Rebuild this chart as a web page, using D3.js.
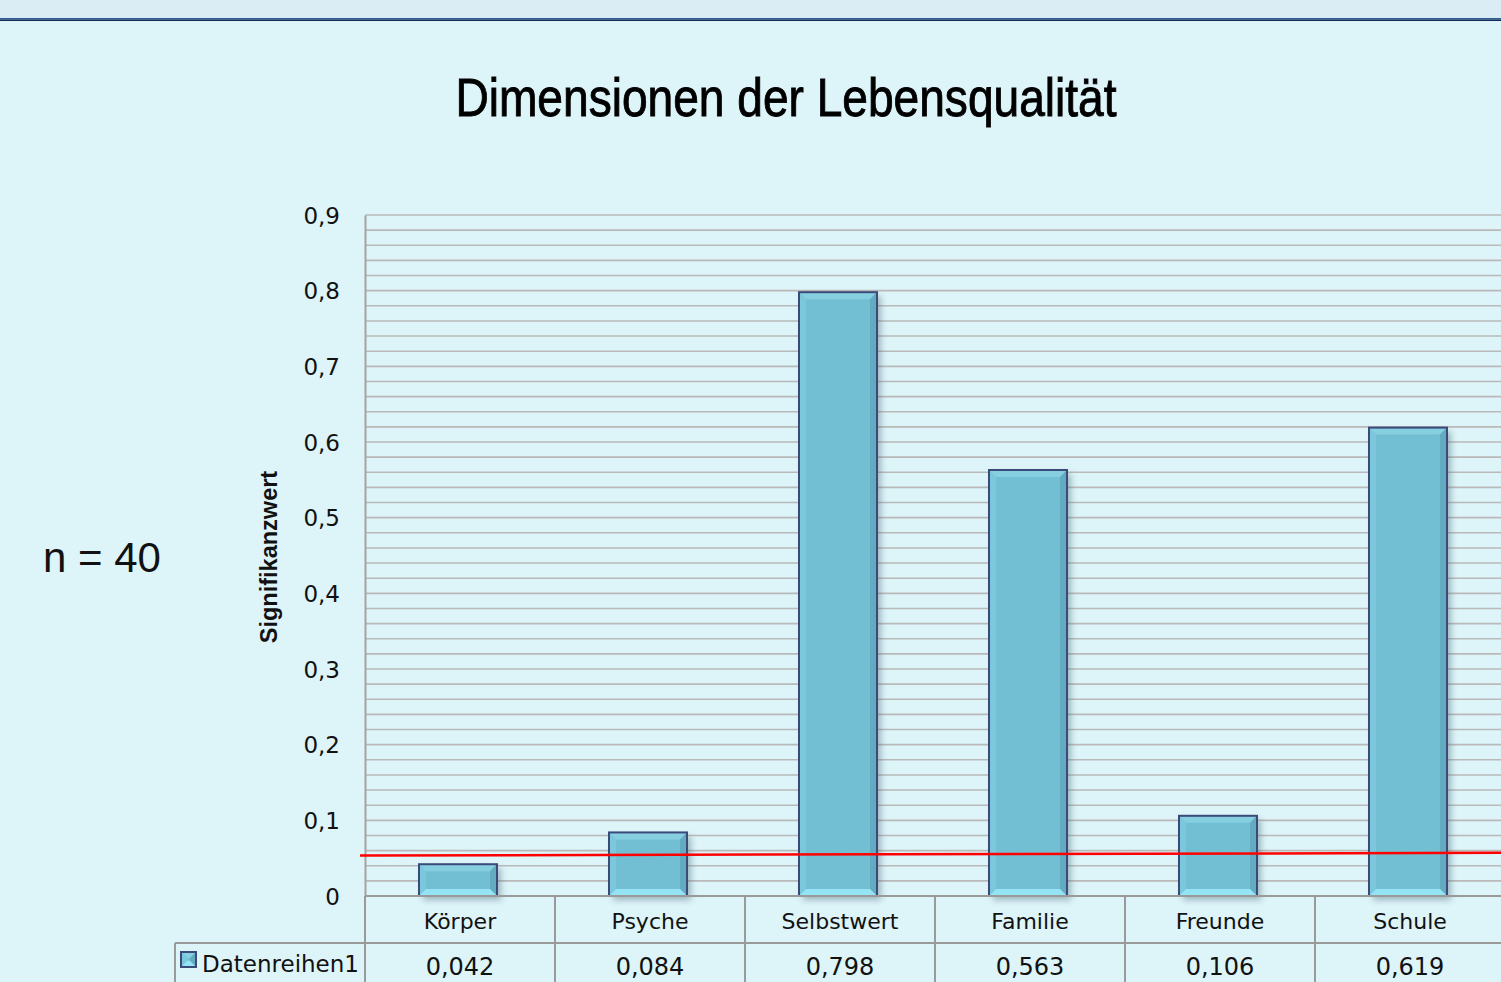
<!DOCTYPE html>
<html>
<head>
<meta charset="utf-8">
<script src="https://cdn.jsdelivr.net/npm/d3@7"></script>
<style>
  html, body { margin: 0; padding: 0; background: #ddf4f8; overflow: hidden; }
  svg { display: block; }
</style>
</head>
<body>
<svg id="chart"></svg>
<script>
const categories = ['Körper', 'Psyche', 'Selbstwert', 'Familie', 'Freunde', 'Schule'];
const values = [0.042, 0.084, 0.798, 0.563, 0.106, 0.619];
const valueLabels = ['0,042', '0,084', '0,798', '0,563', '0,106', '0,619'];
const yTicks = [0, 0.1, 0.2, 0.3, 0.4, 0.5, 0.6, 0.7, 0.8, 0.9];
const seriesName = 'Datenreihen1';
// hand-drawn threshold line, slightly tilted in the original
const thresholdLine = [0.0535, 0.057];

const W = 1501, H = 982;
const svg = d3.select('#chart').attr('width', W).attr('height', H);

const defs = svg.append('defs');
const blur = defs.append('filter').attr('id', 'shadow').attr('x', '-20%').attr('y', '-20%').attr('width', '140%').attr('height', '140%');
blur.append('feGaussianBlur').attr('stdDeviation', 3);

// background + header band
svg.append('rect').attr('width', W).attr('height', H).attr('fill', '#ddf4f8');
svg.append('rect').attr('width', W).attr('height', 18).attr('fill', '#daedf4');
svg.append('rect').attr('y', 18).attr('width', W).attr('height', 1.5).attr('fill', '#2b5d92');
svg.append('rect').attr('y', 19.5).attr('width', W).attr('height', 1.5).attr('fill', '#0f2b57');

// title, condensed like the original
svg.append('text')
  .attr('transform', 'translate(786,116) scale(0.87,1)')
  .attr('text-anchor', 'middle')
  .style('font-family', '"Liberation Sans", Arial, sans-serif')
  .style('font-size', '53px')
  .style('fill', '#000')
  .style('stroke', '#000')
  .style('stroke-width', '0.9px')
  .text('Dimensionen der Lebensqualität');

svg.append('text')
  .attr('x', 43).attr('y', 572)
  .style('font-family', '"Liberation Sans", Arial, sans-serif')
  .style('font-size', '42px')
  .style('fill', '#111')
  .text('n = 40');

const margin = { left: 365, top: 215, bottom: 896 };
const plotRight = 1505;

const x = d3.scaleBand().domain(categories).range([margin.left, plotRight]).padding(0);
const y = d3.scaleLinear().domain([0, 0.9]).range([margin.bottom, margin.top]);

// gridlines every 0.02
const grid = d3.range(1, 46).map(i => i * 0.02);
svg.append('g').selectAll('line').data(grid).enter().append('line')
  .attr('x1', margin.left).attr('x2', plotRight)
  .attr('y1', d => y(d)).attr('y2', d => y(d))
  .attr('stroke', '#b9b9b9').attr('stroke-width', 1.6);

// y axis
const yAxis = svg.append('g')
  .attr('transform', `translate(${margin.left},0)`)
  .call(d3.axisLeft(y).tickValues(yTicks).tickSize(0).tickPadding(25)
    .tickFormat(d => d3.format('.1f')(d).replace('.', ',').replace(/^0,0$/, '0')));
yAxis.select('.domain').attr('stroke', '#a3a3a3').attr('stroke-width', 2);
yAxis.selectAll('text')
  .attr('dy', '0.36em')
  .style('font-family', '"DejaVu Sans", sans-serif')
  .style('font-size', '23px')
  .style('fill', '#111');

svg.append('text')
  .attr('transform', `translate(277,${557}) rotate(-90)`)
  .attr('text-anchor', 'middle')
  .style('font-family', '"Liberation Sans", Arial, sans-serif')
  .style('font-size', '23.5px')
  .style('font-weight', 'bold')
  .style('fill', '#111')
  .text('Signifikanzwert');

// bars with bevel
const barW = 78;
const bev = 7;
function bevelBox(g, x0, y0, w, h) {
  const x1 = x0 + w, y1 = y0 + h;
  const b = Math.min(bev, h / 2 - 1, w / 2 - 1);
  g.append('rect').attr('x', x0 + 4).attr('y', y0 + 4).attr('width', w).attr('height', h)
    .attr('fill', '#4b6b7a').attr('opacity', 0.45).attr('filter', 'url(#shadow)');
  g.append('rect').attr('x', x0).attr('y', y0).attr('width', w).attr('height', h).attr('fill', '#72bfd3');
  const poly = (pts, c) => g.append('polygon').attr('points', pts.map(p => p.join(',')).join(' ')).attr('fill', c);
  poly([[x0, y0], [x1, y0], [x1 - b, y0 + b], [x0 + b, y0 + b]], '#86cfe1');
  poly([[x0, y0], [x0 + b, y0 + b], [x0 + b, y1 - b], [x0, y1]], '#7bc7db');
  poly([[x1, y0], [x1, y1], [x1 - b, y1 - b], [x1 - b, y0 + b]], '#62abc0');
  poly([[x0, y1], [x0 + b, y1 - b], [x1 - b, y1 - b], [x1, y1]], '#94e4f6');
  g.append('rect').attr('x', x0).attr('y', y0).attr('width', w).attr('height', h)
    .attr('fill', 'none').attr('stroke', '#3c4a79').attr('stroke-width', 2);
}

const bars = svg.append('g');
categories.forEach((c, i) => {
  const cx = x(c) + x.bandwidth() / 2 - 2;
  bevelBox(bars.append('g'), cx - barW / 2, y(values[i]), barW, y(0) - y(values[i]));
});

// threshold line
svg.append('line')
  .attr('x1', 360).attr('x2', W)
  .attr('y1', y(thresholdLine[0])).attr('y2', y(thresholdLine[1]))
  .attr('stroke', '#ff0000').attr('stroke-width', 2.5);

// data table
const rowTop = 896, rowMid = 943, rowBot = 1000;
const tbl = svg.append('g').attr('stroke', '#9a9a9a').attr('stroke-width', 2);
tbl.append('line').attr('x1', margin.left).attr('x2', plotRight).attr('y1', rowTop).attr('y2', rowTop);
tbl.append('line').attr('x1', 175).attr('x2', plotRight).attr('y1', rowMid).attr('y2', rowMid);
tbl.append('line').attr('x1', 175).attr('x2', 175).attr('y1', rowMid).attr('y2', rowBot);
tbl.selectAll('.vl').data(categories).enter().append('line')
  .attr('x1', d => x(d)).attr('x2', d => x(d))
  .attr('y1', rowTop).attr('y2', rowBot);

const txt = svg.append('g')
  .style('font-family', '"DejaVu Sans", sans-serif')
  .style('fill', '#111');
txt.selectAll('.cat').data(categories).enter().append('text')
  .attr('x', d => x(d) + x.bandwidth() / 2)
  .attr('y', 929)
  .attr('text-anchor', 'middle')
  .style('font-size', '22px')
  .text(d => d);
txt.selectAll('.val').data(valueLabels).enter().append('text')
  .attr('x', (d, i) => x(categories[i]) + x.bandwidth() / 2)
  .attr('y', 975)
  .attr('text-anchor', 'middle')
  .style('font-size', '24px')
  .text(d => d);

// legend key
const key = svg.append('g');
bevelBox(key, 181, 952, 15, 15);
key.select('rect').remove();
txt.append('text').attr('x', 202).attr('y', 972).style('font-size', '23px').text(seriesName);
</script>
</body>
</html>
